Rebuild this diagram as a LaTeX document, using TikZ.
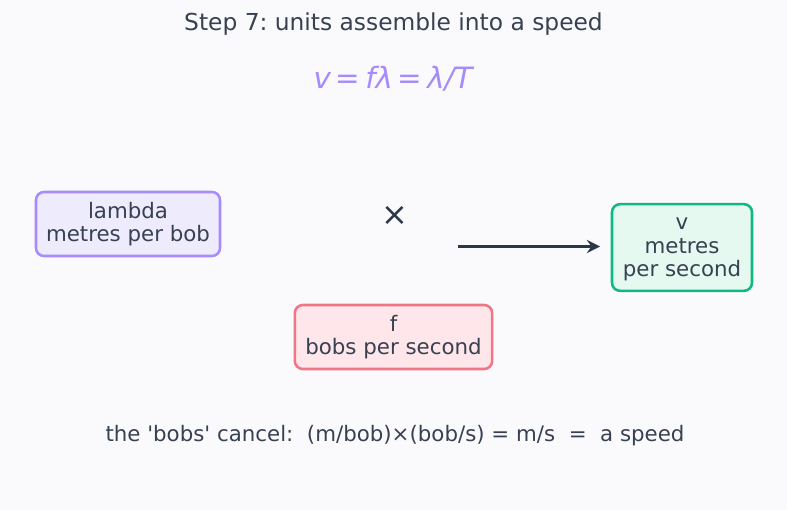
\documentclass[tikz,border=0pt]{standalone}
\usepackage{fontspec}
\setmainfont{DejaVu Sans}[Ligatures=TeXOff]
\usetikzlibrary{arrows.meta, positioning}
\frenchspacing

\definecolor{ink}{HTML}{374151}
\definecolor{arrowink}{HTML}{2D3748}
\definecolor{paper}{HTML}{FAFAFD}
\definecolor{lamline}{HTML}{A78BFA}
\definecolor{lamfill}{HTML}{EEEBFD}
\definecolor{vline}{HTML}{10B981}
\definecolor{vfill}{HTML}{E6F9F0}
\definecolor{fline}{HTML}{F07686}
\definecolor{ffill}{HTML}{FFE6EA}

\begin{document}
\begin{tikzpicture}[x=0.75pt, y=-0.75pt, text=ink,
 unit box/.style={rectangle, rounded corners=6pt, line width=1.9pt, align=center,
   inner sep=0pt, font=\fontsize{16}{17.6}\selectfont},
 label text/.style={font=\fontsize{16}{18}\selectfont}]
  \fill[paper] (0,0) rectangle (787,510);

  \node[font=\fontsize{17.5}{20}\selectfont] (title) at (393.5,24) {Step 7: units assemble into a speed};
  \node[text=lamline, font=\fontsize{22}{26}\selectfont] (formula) at (393,79)
    {{\itshape v}\,=\,{\itshape fλ}\,=\,{\itshape λ/T}};

  \node[unit box, draw=lamline, fill=lamfill, minimum width=138pt, minimum height=48pt]
    (lam) at (128,224) {\rule{0pt}{12pt}lambda\\metres per bob};
  \node[unit box, draw=fline, fill=ffill, minimum width=148pt, minimum height=48pt]
    (f) at (393.5,337) {\rule{0pt}{12pt}f\\bobs per second};
  \node[unit box, draw=vline, fill=vfill, minimum width=105pt, minimum height=65pt]
    (v) at (682,247.5) {\rule{0pt}{12pt}v\\metres\\per second};

  \node[text=arrowink, font=\fontsize{24}{26}\selectfont] (times) at (395,216) {×};
  \coordinate (start) at (458,246.5);
  \draw[-{Stealth[length=10pt, width=10pt, inset=3.5pt]}, arrowink, line width=2.4pt,
    shorten >=8pt] (start) -- (start -| v.west);

  \node[label text] (note) at (395,436)
    {the 'bobs' cancel:\ \ (m/bob)×(bob/s) = m/s \ = \ a speed};
\end{tikzpicture}
\end{document}
